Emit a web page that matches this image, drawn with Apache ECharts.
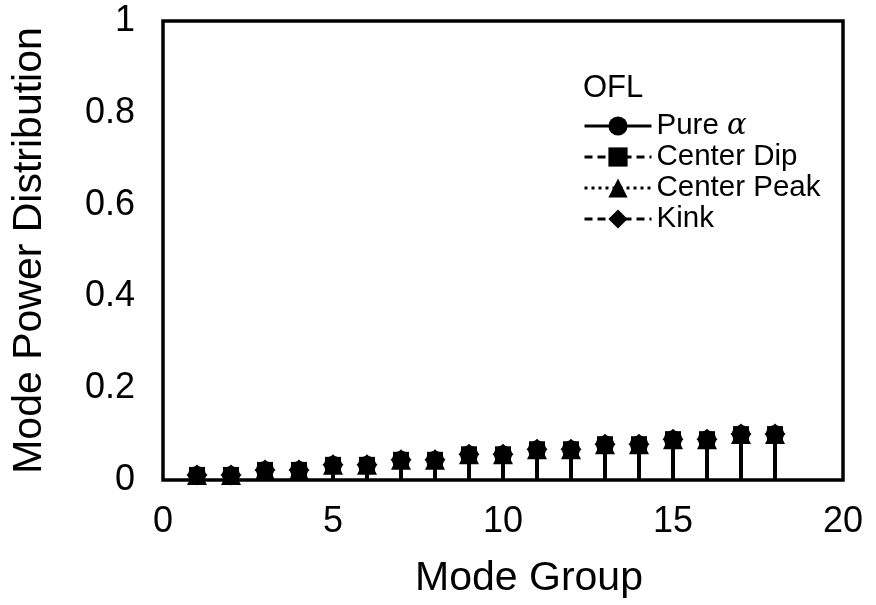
<!DOCTYPE html>
<html>
<head>
<meta charset="utf-8">
<script src="https://cdn.jsdelivr.net/npm/echarts@6/dist/echarts.min.js"></script>
<style>
  html, body { margin: 0; padding: 0; background: #fff; }
  #chart { width: 876px; height: 605px; }
</style>
</head>
<body>
<div id="chart"></div>
<script>
// Mode groups on the x axis
const modeGroups = [1, 2, 3, 4, 5, 6, 7, 8, 9, 10, 11, 12, 13, 14, 15, 16, 17, 18];

// Fraction of launched power in each mode group, overfilled launch (OFL)
const pureAlpha   = [0.011, 0.011, 0.022, 0.022, 0.033, 0.033, 0.044, 0.044, 0.056, 0.056, 0.067, 0.067, 0.078, 0.078, 0.089, 0.089, 0.100, 0.100];
const centerDip   = [0.011, 0.011, 0.022, 0.022, 0.033, 0.033, 0.044, 0.044, 0.056, 0.056, 0.067, 0.067, 0.078, 0.078, 0.089, 0.089, 0.100, 0.100];
const centerPeak  = [0.011, 0.011, 0.022, 0.022, 0.033, 0.033, 0.044, 0.044, 0.056, 0.056, 0.067, 0.067, 0.078, 0.078, 0.089, 0.089, 0.100, 0.100];
const kink        = [0.011, 0.011, 0.022, 0.022, 0.033, 0.033, 0.044, 0.044, 0.056, 0.056, 0.067, 0.067, 0.078, 0.078, 0.089, 0.089, 0.100, 0.100];

const seriesNames = ['Pure α', 'Center Dip', 'Center Peak', 'Kink'];
const yTicks = [0, 0.2, 0.4, 0.6, 0.8, 1];
const xTicks = [0, 5, 10, 15, 20];

const FONT = '"Liberation Sans", Arial, Helvetica, sans-serif';

const profiles = [
  { name: seriesNames[0], values: pureAlpha,  symbol: 'circle',   size: 18, line: 'solid' },
  { name: seriesNames[1], values: centerDip,  symbol: 'rect',     size: 16, line: [8, 5] },
  { name: seriesNames[2], values: centerPeak, symbol: 'triangle', size: 20, line: [3, 4] },
  { name: seriesNames[3], values: kink,       symbol: 'diamond',  size: 21, line: [8, 5] }
];

const pairs = v => modeGroups.map((g, i) => [g, v[i]]);

const series = [];
// impulses from zero up to each value
profiles.forEach(p => {
  series.push({
    type: 'bar',
    name: p.name + ' stems',
    data: pairs(p.values),
    barWidth: 4,
    barGap: '-100%',
    itemStyle: { color: '#000' },
    silent: true
  });
});
// point markers on top of the impulses
profiles.forEach(p => {
  series.push({
    type: 'line',
    name: p.name,
    data: pairs(p.values),
    symbol: p.symbol,
    symbolSize: p.size,
    showAllSymbol: true,
    itemStyle: { color: '#000', borderWidth: 0 },
    lineStyle: { width: 0, opacity: 0 },
    z: 3
  });
});

const chart = echarts.init(document.getElementById('chart'), null, { renderer: 'canvas' });
chart.setOption({
  animation: false,
  backgroundColor: '#fff',
  textStyle: { fontFamily: FONT, color: '#000' },
  grid: {
    left: 163, right: 33, top: 21, bottom: 125,
    show: true, borderColor: '#000', borderWidth: 3.5, backgroundColor: 'transparent'
  },
  title: {
    text: 'OFL',
    left: 578, top: 68,
    textStyle: { fontFamily: FONT, fontSize: 31, fontWeight: 'normal', color: '#000' }
  },
  legend: {
    orient: 'vertical',
    left: 578, top: 106,
    itemWidth: 67, itemHeight: 24, itemGap: 1,
    selectedMode: false,
    textStyle: {
      fontFamily: FONT, fontSize: 29.5, color: '#000', padding: [0, 0, 0, 0],
      rich: { a: { fontFamily: 'DejaVu Serif, serif', fontStyle: 'italic', fontSize: 29, color: '#000' } }
    },
    formatter: n => n === seriesNames[0] ? 'Pure {a|α}' : n,
    data: profiles.map(p => ({
      name: p.name,
      lineStyle: { color: '#000', width: 3, type: p.line, opacity: 1 },
      itemStyle: { color: '#000' }
    }))
  },
  xAxis: {
    type: 'value',
    min: xTicks[0], max: xTicks[xTicks.length - 1], interval: 5,
    name: 'Mode Group',
    nameLocation: 'middle',
    nameGap: 78,
    nameTextStyle: { fontFamily: FONT, fontSize: 41, color: '#000', padding: [0, 0, 0, 52] },
    axisLine: { show: false },
    axisTick: { show: false },
    splitLine: { show: false },
    axisLabel: { fontFamily: FONT, fontSize: 36, color: '#000', margin: 24 }
  },
  yAxis: {
    type: 'value',
    min: yTicks[0], max: yTicks[yTicks.length - 1], interval: 0.2,
    name: 'Mode Power Distribution',
    nameLocation: 'middle',
    nameGap: 113,
    nameTextStyle: { fontFamily: FONT, fontSize: 41, color: '#000' },
    axisLine: { show: false },
    axisTick: { show: false },
    splitLine: { show: false },
    axisLabel: { fontFamily: FONT, fontSize: 36, color: '#000', margin: 28 }
  },
  series: series
});
</script>
</body>
</html>
